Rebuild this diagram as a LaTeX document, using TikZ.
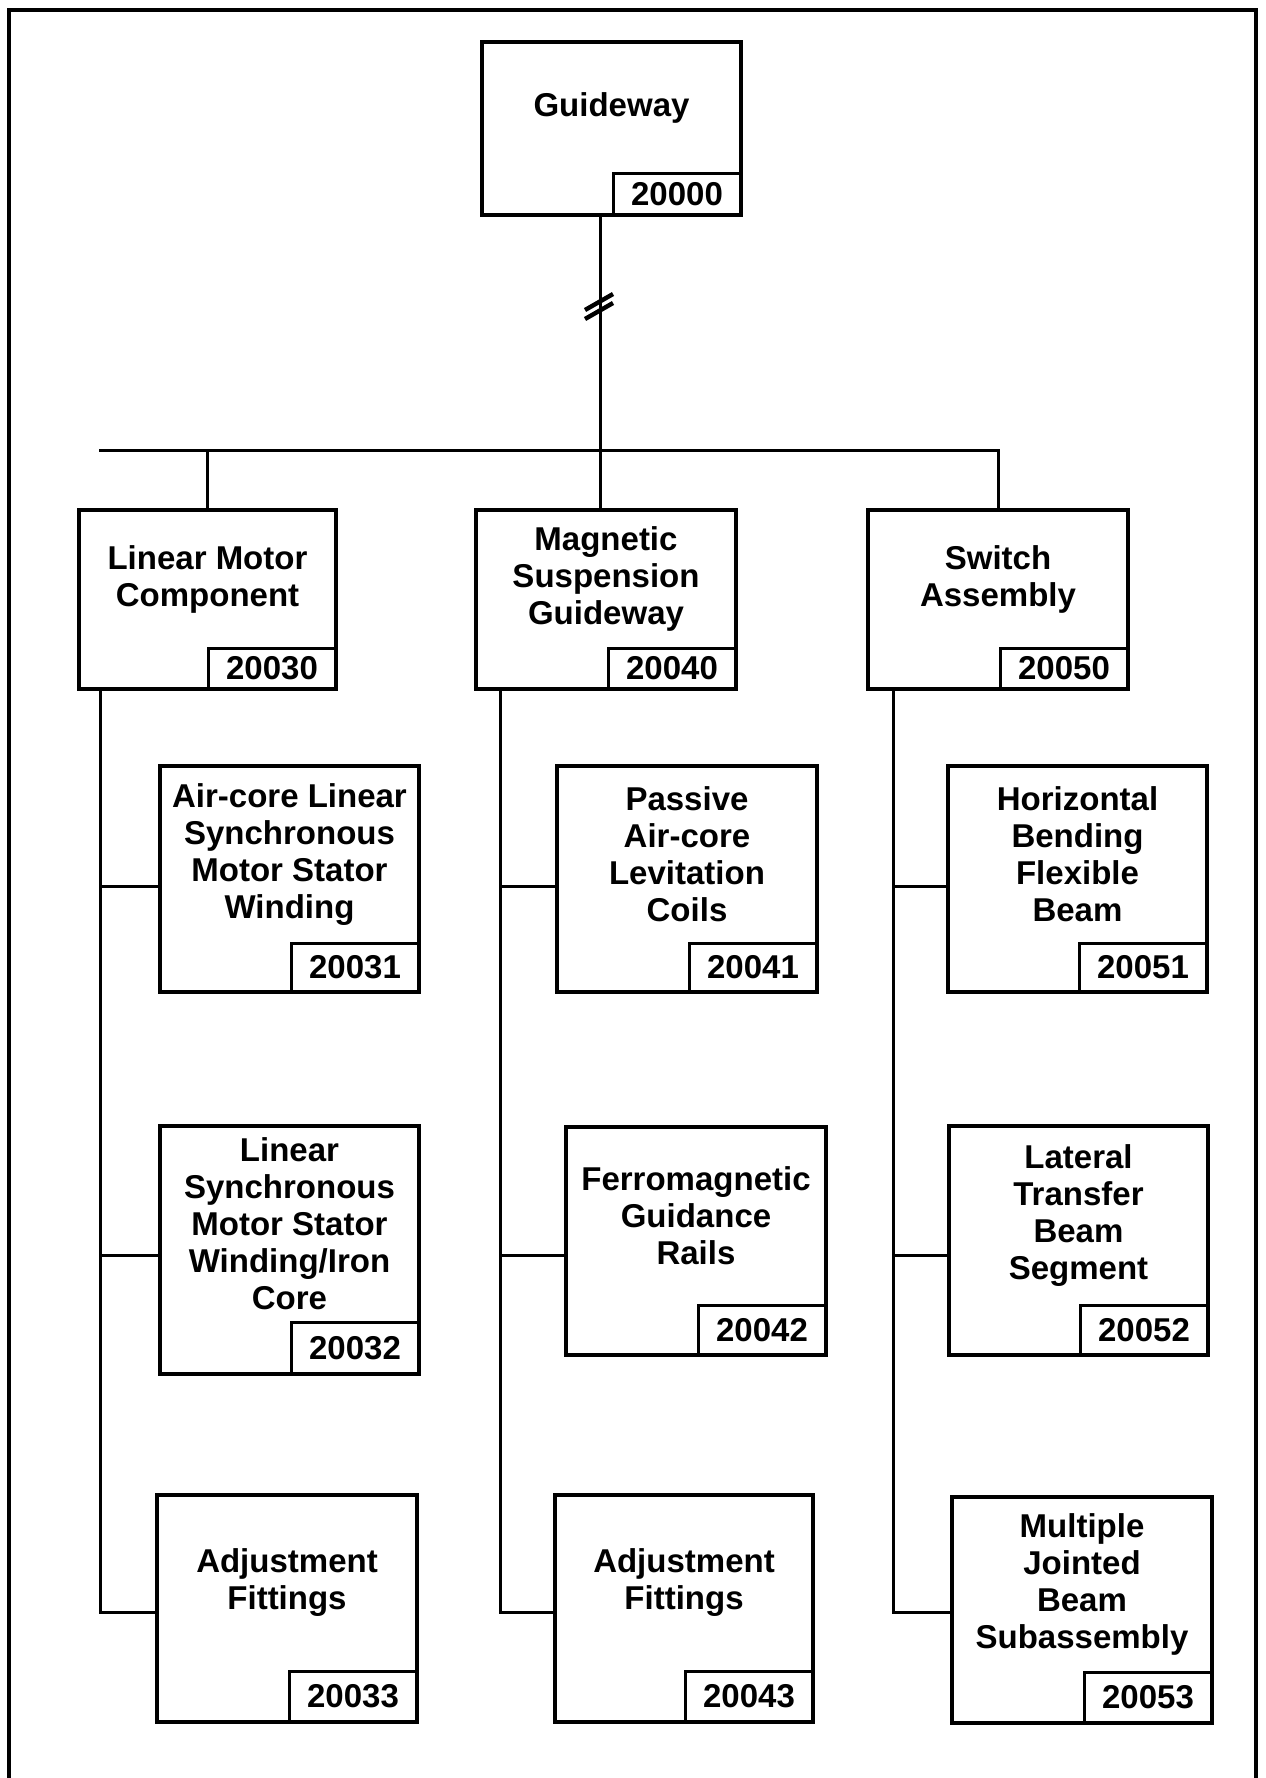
\documentclass[tikz,border=0pt]{standalone}
\usepackage{fontspec}
\setmainfont{Liberation Sans}
\usetikzlibrary{calc}
\tikzset{
  bx/.style={draw, line width=1.75pt, inner sep=0pt, outer sep=0pt},
  numbx/.style={draw, line width=1.5pt, inner sep=0pt, outer sep=0pt, minimum width=64pt,
    font=\bfseries\fontsize{16.5}{18}\selectfont},
  lbl/.style={align=center, inner sep=0pt, font=\bfseries\fontsize{16.5}{18.5}\selectfont},
  conn/.style={line width=1.5pt},
}
\newcommand\mkbox[8]{%
  \node[bx, minimum width={(#4-#2)*0.5pt}, minimum height={(#5-#3)*0.5pt}] (#1) at ({(#2+#4)/2},{(#3+#5)/2}) {};
  \node[numbx, minimum height={#8*0.5pt}, anchor=south east] (#1n) at (#1.south east) {#7};
  \node[lbl] (#1t) at ($(#1.north)!0.5!(#1.north |- #1n.north)$) {#6};
}
\begin{document}
\begin{tikzpicture}[x=0.5pt, y=-0.5pt]
\useasboundingbox (0,0) rectangle (1265,1778);
% frame
\draw[line width=2pt] (9,1778) -- (9,10) -- (1256,10) -- (1256,1778);

% boxes
\mkbox{g}{482}{42}{741}{215}{Guideway}{20000}{42}
\mkbox{lm}{79}{510}{336}{689}{Linear Motor\\Component}{20030}{41}
\mkbox{ms}{476}{510}{736}{689}{Magnetic\\Suspension\\Guideway}{20040}{41}
\mkbox{sa}{868}{510}{1128}{689}{Switch\\Assembly}{20050}{41}

\mkbox{ca}{160}{766}{419}{992}{Air-core Linear\\Synchronous\\Motor Stator\\Winding}{20031}{49}
\mkbox{cb}{160}{1126}{419}{1374}{Linear\\Synchronous\\Motor Stator\\Winding/Iron\\Core}{20032}{52}
\mkbox{cc}{157}{1495}{417}{1722}{Adjustment\\Fittings}{20033}{51}

\mkbox{da}{557}{766}{817}{992}{Passive\\Air-core\\Levitation\\Coils}{20041}{49}
\mkbox{db}{566}{1127}{826}{1355}{Ferromagnetic\\Guidance\\Rails}{20042}{50}
\mkbox{dc}{555}{1495}{813}{1722}{Adjustment\\Fittings}{20043}{51}

\mkbox{ea}{948}{766}{1207}{992}{Horizontal\\Bending\\Flexible\\Beam}{20051}{49}
\mkbox{eb}{949}{1126}{1208}{1355}{Lateral\\Transfer\\Beam\\Segment}{20052}{50}
\mkbox{ec}{952}{1497}{1212}{1723}{Multiple\\Jointed\\Beam\\Subassembly}{20053}{51}

% top-level connectors
\coordinate (bar) at (600,450);
\coordinate (barL) at (99,450);
\draw[conn] (g.south -| bar) -- (bar);
\draw[conn] (barL) -- (sa.north |- bar) -- (sa.north);
\draw[conn] (lm.north) -- (lm.north |- bar);
\draw[conn] (bar) -- (ms.north -| bar);
% break mark
\draw[line width=2.2pt] (585,310) -- (613,294);
\draw[line width=2.2pt] (585,319) -- (613,303);

% spines
\coordinate (s1) at (100,1612);
\coordinate (s2) at (500,1612);
\coordinate (s3) at (893,1612);
\coordinate (r1) at (0,886);
\coordinate (r2) at (0,1255);

\draw[conn] (lm.south -| s1) -- (s1) -- (cc.west |- s1);
\draw[conn] (ca.west |- r1) -- (s1 |- r1);
\draw[conn] (cb.west |- r2) -- (s1 |- r2);

\draw[conn] (ms.south -| s2) -- (s2) -- (dc.west |- s2);
\draw[conn] (da.west |- r1) -- (s2 |- r1);
\draw[conn] (db.west |- r2) -- (s2 |- r2);

\draw[conn] (sa.south -| s3) -- (s3) -- (ec.west |- s3);
\draw[conn] (ea.west |- r1) -- (s3 |- r1);
\draw[conn] (eb.west |- r2) -- (s3 |- r2);
\end{tikzpicture}
\end{document}
